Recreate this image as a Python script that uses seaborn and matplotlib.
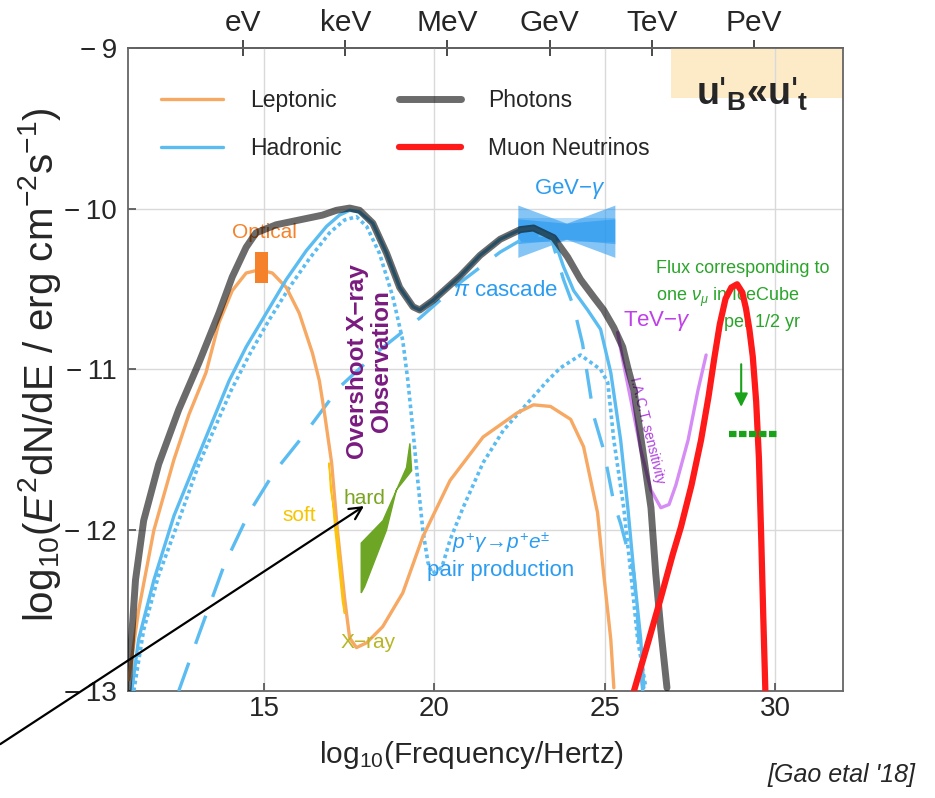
import numpy as np
import pandas as pd
import seaborn as sns
import matplotlib.pyplot as plt
from matplotlib.patches import Rectangle, Polygon

# ---- data (log10 nu, log10 flux) ----
photon_x = [11.0, 11.22, 11.46, 11.90, 12.49, 13.08, 13.67, 14.06, 14.47, 14.76, 15.35, 16.03, 16.71,
            17.12, 17.51, 17.80, 18.19, 18.60, 18.98, 19.37, 19.57, 19.96, 20.75, 21.34, 21.93, 22.52,
            22.91, 23.50, 23.91, 24.29, 24.68, 24.97, 25.27, 25.53, 25.68, 25.86, 26.15, 26.36, 26.50,
            26.65, 26.83]
photon_y = [-13.0, -12.31, -11.94, -11.59, -11.25, -10.96, -10.65, -10.425, -10.24, -10.15, -10.10,
            -10.07, -10.04, -10.01, -9.996, -10.01, -10.09, -10.28, -10.49, -10.61, -10.63, -10.57,
            -10.42, -10.29, -10.19, -10.13, -10.12, -10.18, -10.30, -10.44, -10.55, -10.63, -10.74,
            -10.86, -10.99, -11.13, -11.55, -11.86, -12.27, -12.62, -12.98]

lep_x = [11.02, 11.31, 11.76, 12.35, 12.79, 13.29, 13.67, 14.06, 14.47, 14.85, 15.24, 15.65, 16.03,
         16.42, 16.62, 16.77, 16.98, 17.15, 17.36, 17.51, 17.71, 18.01, 18.48, 19.07, 19.66, 20.46,
         21.43, 22.43, 22.91, 23.41, 24.00, 24.38, 24.79, 24.97, 25.18, 25.27]
lep_y = [-12.93, -12.50, -12.00, -11.56, -11.28, -11.02, -10.71, -10.51, -10.40, -10.38, -10.40,
         -10.49, -10.65, -10.90, -11.07, -11.27, -11.58, -12.00, -12.42, -12.67, -12.73, -12.70,
         -12.60, -12.39, -12.04, -11.69, -11.42, -11.27, -11.22, -11.23, -11.31, -11.48, -11.89,
         -12.27, -12.68, -12.98]

had_x = [11.11, 11.31, 11.76, 12.35, 13.08, 13.97, 14.47, 15.06, 15.65, 16.24, 16.83, 17.21, 17.51,
         17.80, 18.19, 18.60, 18.98, 19.37, 19.57, 19.96, 20.75, 21.34, 21.93, 22.52, 22.91, 23.50,
         23.79, 24.09, 24.50, 24.88, 25.18, 25.47, 25.68, 25.86, 26.06, 26.15]
had_y = [-13.0, -12.68, -12.31, -11.91, -11.53, -11.07, -10.86, -10.65, -10.44, -10.26, -10.11,
         -10.04, -10.01, -10.02, -10.09, -10.28, -10.49, -10.61, -10.63, -10.57, -10.42, -10.29,
         -10.19, -10.13, -10.12, -10.18, -10.36, -10.51, -10.63, -10.75, -11.02, -11.44, -11.86,
         -12.27, -12.68, -12.98]

# dotted: proton synchrotron + Bethe-Heitler pair production
dot_x = [11.17, 11.46, 11.90, 12.49, 13.08, 14.03, 14.56, 15.15, 15.74, 16.33, 16.92, 17.36, 17.71,
         18.01, 18.39, 18.78, 19.07, 19.22, 19.37, 19.51, 19.66, 19.81, 19.93, 20.22, 20.46, 20.84,
         21.43, 22.02, 22.73, 23.32, 23.70, 24.29, 24.88, 25.09, 25.27, 25.56, 25.77, 25.97, 26.21]
dot_y = [-13.0, -12.62, -12.28, -11.94, -11.59, -11.13, -10.91, -10.69, -10.49, -10.31, -10.15,
         -10.07, -10.05, -10.11, -10.28, -10.55, -10.82, -11.07, -11.38, -11.69, -12.00, -12.20,
         -12.27, -12.23, -12.06, -11.86, -11.58, -11.38, -11.21, -11.07, -10.99, -10.91, -11.00,
         -11.08, -11.44, -11.86, -12.27, -12.68, -12.98]

# dashed: pi cascade
pi_x = [12.49, 13.08, 13.82, 14.56, 15.29, 16.12, 17.21, 18.39, 19.57, 20.75, 21.93, 22.82, 23.41,
        23.79, 24.09, 24.35, 24.68, 24.97, 25.27, 25.47, 25.86, 25.97, 26.06, 26.12]
pi_y = [-13.0, -12.65, -12.22, -11.89, -11.64, -11.42, -11.11, -10.88, -10.68, -10.46, -10.27,
        -10.16, -10.17, -10.44, -10.61, -10.84, -11.29, -11.50, -11.83, -11.96, -12.27, -12.56,
        -12.89, -13.0]

nu_x = [25.86, 26.30, 26.65, 27.00, 27.24, 27.55, 27.83, 28.05, 28.22, 28.38, 28.55, 28.72, 28.89,
        29.04, 29.15, 29.25, 29.35, 29.45, 29.53, 29.60, 29.66, 29.72]
nu_y = [-13.0, -12.68, -12.42, -12.15, -11.98, -11.72, -11.44, -11.17, -10.93, -10.72, -10.56,
        -10.49, -10.47, -10.52, -10.62, -10.75, -10.92, -11.20, -11.55, -12.06, -12.55, -13.0]

iact_x = [25.38, 25.53, 25.77, 26.06, 26.36, 26.65, 26.89, 27.09, 27.45, 27.74, 27.98]
iact_y = [-10.77, -10.94, -11.19, -11.50, -11.75, -11.86, -11.84, -11.72, -11.44, -11.13, -10.91]

# observations
optical_x = [14.72, 15.10]
optical_y = [-10.46, -10.27]
soft_x = [16.90, 16.98, 17.08, 17.30, 17.36, 17.30, 17.15, 16.95]
soft_y = [-11.58, -11.75, -12.00, -12.45, -12.52, -12.35, -12.00, -11.75]
hard_x = [17.85, 17.85, 18.49, 19.18, 19.28, 19.33, 18.88, 18.59, 17.95]
hard_y = [-12.39, -12.08, -11.94, -11.61, -11.46, -11.63, -11.75, -12.00, -12.35]
gev_x = [22.45, 25.30]
gev_center = -10.14
icecube_x = [28.66, 30.10]
icecube_y = -11.40

top_ticks = [14.38, 17.38, 20.38, 23.38, 26.38, 29.38]
top_labels = ['eV', 'keV', 'MeV', 'GeV', 'TeV', 'PeV']

sns.set_theme(style='white')
plt.rcParams['font.family'] = ['Liberation Sans', 'DejaVu Sans']
plt.rcParams['mathtext.fontset'] = 'custom'
plt.rcParams['mathtext.rm'] = 'Liberation Sans'
plt.rcParams['mathtext.it'] = 'Liberation Sans:italic'
plt.rcParams['mathtext.bf'] = 'Liberation Sans:bold'

fig = plt.figure(figsize=(9.35, 7.98), dpi=100)
ax = fig.add_axes([0.1369, 0.1341, 0.7647, 0.8058])

c_lep = '#f7a862'
c_had = '#5bbcf2'
c_red = '#ff1a1a'

# background box
ax.add_patch(Rectangle((0.759, 0.922), 0.241, 0.078, transform=ax.transAxes,
                       facecolor='#fdebc8', edgecolor='none', zorder=0.3))

# GeV bowties
gx = np.array(gev_x)
for slope in (0.03, -0.03):
    yc = gev_center + slope * (gx - 23.88)
    ax.fill_between([gx[0], 23.88, gx[1]],
                    [yc[0] + 0.12, gev_center + 0.05, yc[1] + 0.12],
                    [yc[0] - 0.12, gev_center - 0.05, yc[1] - 0.12],
                    color='#2196f0', alpha=0.55, lw=0, zorder=2)
ax.fill_between(gx, [gev_center + 0.08] * 2, [gev_center - 0.07] * 2,
                color='#2196f0', alpha=0.3, lw=0, zorder=2)

# curves
sns.lineplot(x=dot_x, y=dot_y, ax=ax, color=c_had, lw=2.6, linestyle=(0, (1, 0.9)), sort=False, zorder=3)
sns.lineplot(x=pi_x, y=pi_y, ax=ax, color=c_had, lw=2.4, linestyle=(0, (9, 6)), sort=False, zorder=3)
sns.lineplot(x=lep_x, y=lep_y, ax=ax, color=c_lep, lw=2.4, sort=False, zorder=3, label='Leptonic')
sns.lineplot(x=had_x, y=had_y, ax=ax, color=c_had, lw=2.4, sort=False, zorder=3, label='Hadronic')
sns.lineplot(x=iact_x, y=iact_y, ax=ax, color='#d68cf5', lw=2.4, sort=False, zorder=3)
sns.lineplot(x=photon_x, y=photon_y, ax=ax, color='black', alpha=0.58, lw=5, sort=False, zorder=4,
             label='Photons')
sns.lineplot(x=nu_x, y=nu_y, ax=ax, color=c_red, lw=4.5, sort=False, zorder=5, label='Muon Neutrinos')

# observation markers
ax.add_patch(Rectangle((optical_x[0], optical_y[0]), optical_x[1] - optical_x[0],
                       optical_y[1] - optical_y[0], facecolor='#f5822a', edgecolor='none', zorder=4))
ax.add_patch(Polygon(np.column_stack([soft_x, soft_y]), closed=True, facecolor='#fcc30c',
                     edgecolor='#fcc30c', lw=1, zorder=4))
ax.add_patch(Polygon(np.column_stack([hard_x, hard_y]), closed=True, facecolor='#6da524',
                     edgecolor='#6da524', lw=1, zorder=4))
sns.lineplot(x=icecube_x, y=[icecube_y] * 2, ax=ax, color='#1aa31a', lw=4.5,
             linestyle=(0, (1.2, 0.4)), zorder=5)
ax.annotate('', xy=(29.01, -11.25), xytext=(29.01, -10.95),
            arrowprops=dict(arrowstyle='-|>', color='#1aa31a', lw=1.5, mutation_scale=20), zorder=5)

# texts
ax.text(15.0, -10.15, 'Optical', color='#f5822a', fontsize=15, ha='center', va='center')
ax.text(16.03, -11.91, 'soft', color='#f7c400', fontsize=15, ha='center', va='center')
ax.text(17.95, -11.80, 'hard', color='#7aa520', fontsize=15, ha='center', va='center')
ax.text(18.05, -12.70, 'X\u2212ray', color='#b8b626', fontsize=15, ha='center', va='center')
ax.text(18.1, -10.95, 'Overshoot X\u2212ray\nObservation', color='#7a1a80', fontsize=17.5,
        fontweight='bold', rotation=90, ha='center', va='center', linespacing=1.05)
ax.text(23.97, -9.88, 'GeV\u2212$\\gamma$', color='#2b9cf0', fontsize=16, ha='center', va='center')
ax.text(22.1, -10.51, '$\\pi$ cascade', color='#2b9cf0', fontsize=16, ha='center', va='center')
ax.text(21.95, -12.08, '$p^{+}\\gamma\\!\\rightarrow\\! p^{+}e^{\\pm}$', color='#2b9cf0', fontsize=15,
        ha='center', va='center')
ax.text(21.93, -12.25, 'pair production', color='#2b9cf0', fontsize=16, ha='center', va='center')
ax.text(26.55, -10.70, 'TeV\u2212$\\gamma$', color='#c040e8', fontsize=16, ha='center', va='center')
ax.text(26.25, -11.38, 'I.A.C.T. sensitivity', color='#b040e0', fontsize=10, rotation=-76,
        ha='center', va='center')
ax.text(26.5, -10.37, 'Flux corresponding to', color='#2aa52a', fontsize=13, va='center')
ax.text(26.5, -10.55, 'one $\\nu_{\\mu}$ in IceCube', color='#2aa52a', fontsize=13, va='center')
ax.text(28.5, -10.71, 'per 1/2 yr', color='#2aa52a', fontsize=13, va='center')
ax.text(0.873, 0.928, "u$'_{\\mathbf{B}}$\u00abu$'_{\\mathbf{t}}$", transform=ax.transAxes,
        fontsize=27, fontweight='bold', ha='center', va='center', zorder=6)

ax.annotate('', xy=(18.0, -11.84), xytext=(7.18, -13.34),
            arrowprops=dict(arrowstyle='->', color='black', lw=1.6, mutation_scale=22),
            annotation_clip=False, zorder=6)

# axes
ax.set_xlim(11, 32)
ax.set_ylim(-13, -9)
ax.set_xticks([15, 20, 25, 30])
ax.set_yticks([-13, -12, -11, -10, -9])
ax.set_yticklabels(['\u2212\u200913', '\u2212\u200912', '\u2212\u200911', '\u2212\u200910', '\u2212\u20099'])
ax.grid(False)
for v in [15, 20, 25, 30]:
    ax.axvline(v, color='#d9d9d9', lw=1, zorder=0.5)
for v in [-12, -11, -10]:
    ax.axhline(v, color='#d9d9d9', lw=1, zorder=0.5)
ax.tick_params(axis='both', labelsize=20, direction='in', length=6, color='#555555',
               bottom=True, left=True)
ax.tick_params(axis='y', pad=8)
for s in ax.spines.values():
    s.set_color('#666666')
    s.set_linewidth(1.3)
ax.set_xlabel('log$_{10}$(Frequency/Hertz)', fontsize=21.5, labelpad=10)
ax.xaxis.set_label_coords(0.481, -0.075)
ax.set_ylabel('log$_{10}$($E^{2}$dN/dE / erg cm$^{-2}$s$^{-1}$)', fontsize=29, labelpad=2)
ax.yaxis.set_label_coords(-0.091, 0.507)

top = ax.secondary_xaxis('top')
top.set_xticks(top_ticks)
top.set_xticklabels(top_labels)
top.tick_params(labelsize=21.5, direction='inout', length=12, color='#333333', pad=2)

handles, labels = ax.get_legend_handles_labels()
order = [labels.index(n) for n in ['Leptonic', 'Hadronic', 'Photons', 'Muon Neutrinos']]
leg = ax.legend([handles[i] for i in order], [labels[i] for i in order], ncol=2, loc='upper left',
                bbox_to_anchor=(0.017, 0.968), frameon=False, fontsize=16.5, handlelength=2.7,
                columnspacing=2.5, labelspacing=1.1, handletextpad=1.2)

fig.text(0.979, 0.029, "[Gao etal '18]", fontsize=18, style='italic', ha='right', va='center')

fig.savefig('out.png', dpi=100)
